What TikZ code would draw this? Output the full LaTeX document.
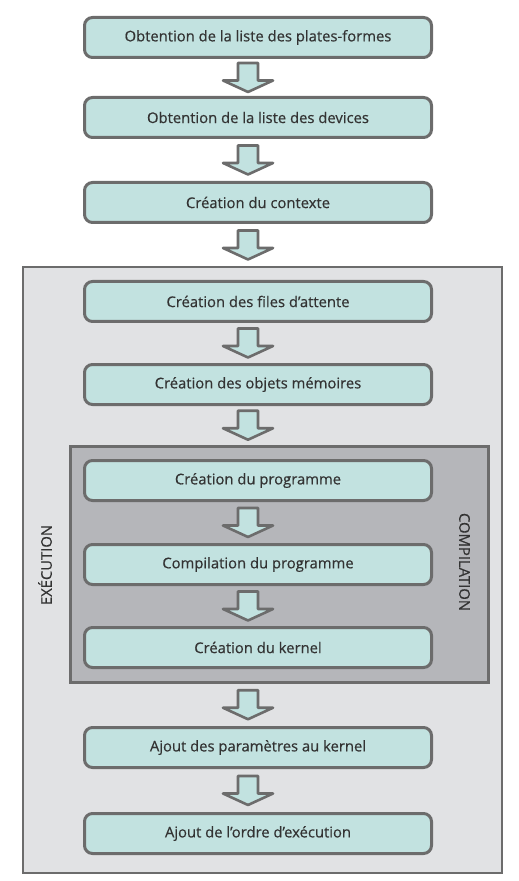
\documentclass[tikz,border=0pt]{standalone}
\usepackage{fontspec}
\setmainfont{Open Sans}
\newfontfamily\diagfont{Open Sans}[FakeBold=0.5]
\usetikzlibrary{positioning, calc, fit, backgrounds}
\usepackage{xcolor}
\definecolor{BoxTeal}{HTML}{C2E2E0}
\definecolor{BoxEdge}{HTML}{6C6C6C}
\definecolor{ExecGray}{HTML}{E1E2E4}
\definecolor{CompGray}{HTML}{B5B6BA}
\definecolor{InkGray}{HTML}{333333}

% block arrow between two nodes
\newcommand{\flowarrow}[2]{%
    \coordinate (mid) at ($(#1.south)!0.5!(#2.north)$);
    \draw [blockarrow, shift={(mid -| axis)}] (-10,-14.5) -- (-10,3) -- (-25,3) -- (0,14.5) -- (25,3) -- (10,3) -- (10,-14.5) -- cycle;
}

\begin{document}
\begin{tikzpicture}[
        x=0.5pt, y=-0.5pt,
        node distance=20pt,
        stepbox/.style={rectangle, draw=BoxEdge, fill=BoxTeal, line width=1.5pt, rounded corners=4pt, minimum width=173.5pt, minimum height=20pt, inner sep=0pt, text=InkGray, font=\diagfont\fontsize{7.4}{9}\selectfont},
        stageframe/.style={rectangle, draw=BoxEdge, inner sep=0pt},
        blockarrow/.style={draw=BoxEdge, fill=BoxTeal, line width=1.3pt, line join=round},
        tag/.style={text=InkGray, inner sep=0pt, font=\diagfont\fontsize{7.4}{9}\selectfont}
    ]
        \useasboundingbox (0,0) rectangle (518,881);
        \coordinate (axis) at (248,0);

        % Nodes
        \node (platforms) [stepbox] at (258,37.5) {Obtention de la liste des plates-formes};
        \node (devices) [stepbox, below=18.5pt of platforms] {Obtention de la liste des devices};
        \node (context) [stepbox, below=21pt of devices] {Création du contexte};
        \node (queues) [stepbox, below=28pt of context] {Création des files d’attente};
        \node (buffers) [stepbox, below=20pt of queues] {Création des objets mémoires};
        \node (program) [stepbox, below=26.5pt of buffers] {Création du programme};
        \node (build) [stepbox, below=20.5pt of program] {Compilation du programme};
        \node (kernel) [stepbox, below=20pt of build] {Création du kernel};
        \node (args) [stepbox, below=28.5pt of kernel] {Ajout des paramètres au kernel};
        \node (enqueue) [stepbox, below=21.5pt of args] {Ajout de l’ordre d’exécution};

        % Frames
        \begin{scope}[on background layer]
            \node (exec) [stageframe, fill=ExecGray, line width=1pt, fit={($(queues.north west)+(-60,-13)$) ($(enqueue.south east)+(69,18)$)}] {};
            \node (comp) [stageframe, fill=CompGray, line width=1.5pt, fit={($(program.north west)+(-13,-13)$) ($(kernel.south east)+(55,13)$)}] {};
        \end{scope}

        % Connectors
        \flowarrow{platforms}{devices}
        \flowarrow{devices}{context}
        \flowarrow{context}{exec}
        \flowarrow{queues}{buffers}
        \flowarrow{buffers}{comp}
        \flowarrow{program}{build}
        \flowarrow{build}{kernel}
        \flowarrow{comp}{args}
        \flowarrow{args}{enqueue}

        % Labels
        \node (execlabel) [tag, rotate=90] at ($(exec.west)+(23,-5)$) {EXÉCUTION};
        \node (complabel) [tag, rotate=-90] at ($(comp.east)+(-25,-2)$) {COMPILATION};
    \end{tikzpicture}
\end{document}
